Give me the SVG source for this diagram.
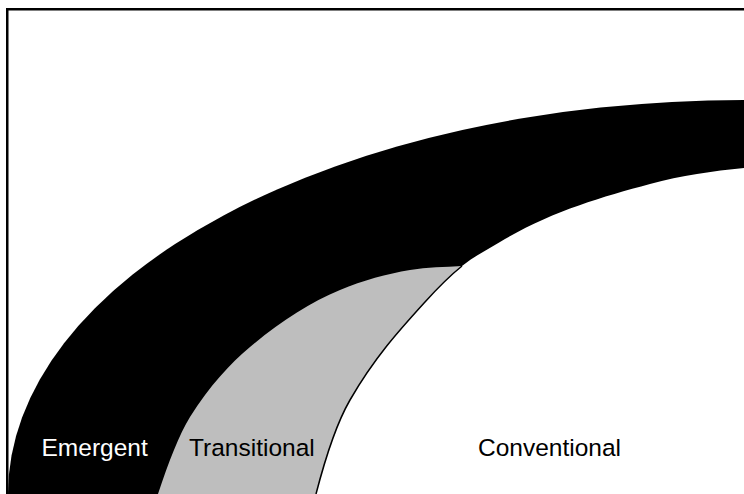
<svg xmlns="http://www.w3.org/2000/svg" width="744" height="494" viewBox="0 0 744 494">
<style>
.lbl{font-family:"Liberation Sans",Arial,Helvetica,sans-serif;font-size:24.5px}
</style>
<rect x="0" y="0" width="744" height="494" fill="#ffffff"/>
<g id="emergent">
<path d="M 8,494 A 736 394 0 0 1 744 100 L 744,494 Z" fill="#000000"/>
<text class="lbl" x="41.5" y="456" fill="#ffffff">Emergent</text>
</g>
<g id="transitional">
<path d="M 158,494 C 168.7,462 179.3,434.1 190,417 C 210,385 230,364 250,347 C 280,321.5 310,302.6 340,290 C 363.3,280.2 386.7,274 410,270 C 427.3,267.1 444.7,267 462,266 L 744,494 Z" fill="#bebebe"/>
<text class="lbl" x="189" y="456" fill="#000000">Transitional</text>
</g>
<g id="conventional">
<path d="M 316,494 C 327.2,450.8 338.3,420.2 350,400 C 375,356.75 400,329.5 425,302 C 437.3,288.4 449.7,275.9 462,266 C 474.7,255.9 487.3,249.6 500,242 C 550,212 600,197.5 650,184 C 681.3,175.5 712.7,171.1 744,168 L 744,494 Z" fill="#ffffff"/>
<text class="lbl" x="478" y="456" fill="#000000">Conventional</text>
</g>
<g id="connectors">
<path d="M 316,494 C 327.2,450.8 338.3,420.2 350,400 C 375,356.75 400,329.5 425,302 C 437.3,288.4 449.7,275.9 462,266" fill="none" stroke="#000000" stroke-width="1.5"/>
</g>
<rect x="7.25" y="9.25" width="800" height="600" fill="none" stroke="#000000" stroke-width="2.5"/>
</svg>
